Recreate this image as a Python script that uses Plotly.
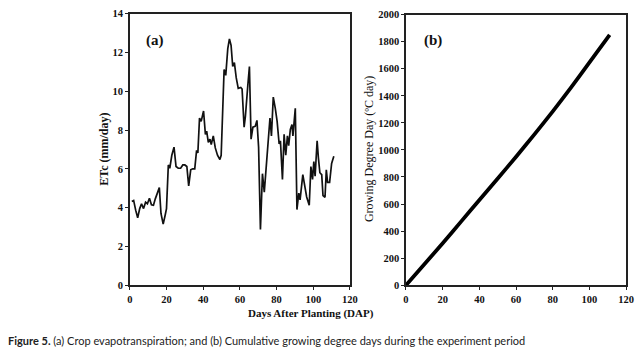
import plotly.graph_objects as go

# (a) Crop evapotranspiration, ETc (mm/day) vs days after planting
etc_days = [1.1, 2.1, 3.2, 4.3, 5.4, 6.4, 7.5, 8.6, 9.6, 10.7, 11.8, 12.9, 13.9, 15.0, 16.1,
            17.0, 18.2, 19.3, 20.0, 21.0, 21.8, 22.9, 24.1, 25.2, 26.4, 27.7, 28.9, 30.0, 31.1,
            32.1, 33.2, 34.3, 35.4, 36.4, 37.1, 38.0, 38.9, 40.2, 41.2, 41.9, 42.8, 43.7, 44.4,
            45.5, 46.6, 47.8, 49.1, 49.8, 51.4, 52.3, 53.4, 54.3, 55.2, 56.1, 57.0, 58.0, 59.1,
            60.5, 61.2, 62.3, 63.0, 64.3, 65.2, 66.1, 67.1, 68.4, 69.3, 70.2, 71.2, 72.3, 73.3,
            74.6, 75.9, 76.4, 77.2, 78.2, 79.3, 80.3, 81.4, 82.1, 83.2, 84.1, 85.0, 85.9, 86.6,
            87.5, 88.4, 88.9, 90.2, 91.1, 92.1, 92.8, 94.3, 95.3, 96.4, 97.8, 98.7, 99.6, 100.3,
            101.0, 102.1, 102.8, 103.6, 104.6, 105.3, 106.4, 107.1, 107.8, 108.9, 110.0, 111.2]
etc_values = [4.32, 4.37, 3.87, 3.48, 3.95, 4.2, 3.95, 4.28, 4.2, 4.48, 4.15, 4.12, 4.45, 4.7, 5.03,
              3.7, 3.15, 3.62, 3.95, 6.2, 6.03, 6.7, 7.12, 6.12, 6.03, 6.03, 6.2, 6.2, 6.12,
              5.12, 5.95, 6.0, 6.0, 6.95, 6.82, 8.62, 8.45, 8.98, 7.78, 7.95, 7.37, 7.53, 7.25,
              7.7, 7.08, 6.7, 6.48, 6.7, 11.12, 10.82, 12.2, 12.7, 12.37, 11.28, 11.48, 10.7, 10.15,
              10.2, 10.12, 8.15, 8.7, 10.28, 11.28, 7.53, 8.15, 8.2, 8.5, 7.12, 2.87, 5.75, 4.8,
              6.4, 7.78, 8.62, 7.7, 9.7, 9.12, 8.45, 7.28, 7.45, 5.45, 7.78, 6.7, 7.7, 7.2,
              8.03, 8.28, 7.7, 9.12, 3.9, 4.75, 4.4, 5.7, 5.2, 4.55, 4.12, 6.12, 5.45, 6.37,
              5.62, 7.45, 6.55, 5.8, 5.7, 4.62, 4.53, 5.95, 5.3, 5.3, 6.28, 6.65]

# (b) Cumulative growing degree days (ºC day)
gdd_days = [0, 10, 20, 30, 40, 50, 60, 70, 80, 90, 100, 111]
gdd_values = [0, 155, 310, 470, 630, 788, 950, 1115, 1285, 1462, 1648, 1850]

x_ticks = [0, 20, 40, 60, 80, 100, 120]
etc_ticks = [0, 2, 4, 6, 8, 10, 12, 14]
gdd_ticks = [0, 200, 400, 600, 800, 1000, 1200, 1400, 1600, 1800, 2000]

SERIF = "Liberation Serif"
AX = "#222222"

fig = go.Figure()
fig.add_trace(go.Scatter(x=etc_days, y=etc_values, mode="lines",
                         line=dict(color="#111111", width=1.7),
                         xaxis="x", yaxis="y", showlegend=False))
fig.add_trace(go.Scatter(x=gdd_days, y=gdd_values, mode="lines",
                         line=dict(color="#000000", width=3.8, shape="spline", smoothing=0.6),
                         xaxis="x2", yaxis="y2", showlegend=False))

tickfont = dict(family=SERIF, size=10.5, color="#111111", weight="bold")
common_x = dict(range=[0, 120], tickvals=x_ticks, ticks="outside", ticklen=3, tickwidth=1.3,
                tickcolor=AX, showline=True, linecolor=AX, linewidth=1.5, mirror=True,
                showgrid=False, zeroline=False, tickfont=tickfont)
common_y = dict(ticks="outside", ticklen=3, tickwidth=1.3, tickcolor=AX, showline=True,
                linecolor=AX, linewidth=1.5, mirror=True, showgrid=False, zeroline=False,
                tickfont=tickfont)

fig.update_layout(
    width=644, height=360,
    margin=dict(l=0, r=0, t=0, b=0),
    paper_bgcolor="white", plot_bgcolor="white",
    xaxis=dict(domain=[129/644, 353/644], anchor="y", **common_x),
    yaxis=dict(domain=[1-289/360, 1-9/360], anchor="x", range=[0, 14],
               tickvals=etc_ticks, **common_y),
    xaxis2=dict(domain=[410/644, 634/644], anchor="y2", **common_x),
    yaxis2=dict(domain=[1-289/360, 1-10/360], anchor="x2", range=[0, 2000],
                tickvals=gdd_ticks, **common_y),
)

ann = [
    dict(text="<b>(a)</b>", x=155/644, y=1-37/360, font=dict(family=SERIF, size=15, color="#111")),
    dict(text="<b>(b)</b>", x=437/644, y=1-37/360, font=dict(family=SERIF, size=15, color="#111")),
    dict(text="<b>ETc (mm/day)</b>", x=103/644, y=1-149/360, textangle=-90,
         font=dict(family=SERIF, size=12, color="#111")),
    dict(text="Growing Degree Day (ºC day)", x=373/644, y=1-149/360, textangle=-90,
         font=dict(family=SERIF, size=12, color="#111")),
    dict(text="<b>Days After Planting (DAP)</b>", x=313/644, y=1-318/360,
         font=dict(family=SERIF, size=11, color="#111")),
]
for a in ann:
    a.update(xref="paper", yref="paper", showarrow=False, xanchor="center", yanchor="middle")
fig.update_layout(annotations=ann)
fig.add_annotation(
    text="<b>Figure 5.</b> (a) Crop evapotranspiration; and (b) Cumulative growing degree days during the experiment period",
    xref="paper", yref="paper", x=3/644, y=1-346/360, xanchor="left", yanchor="middle",
    showarrow=False, font=dict(family="Lato", size=11, color="#222"))

fig.write_html("out.html", config={"displayModeBar": False},
               post_script="document.body.style.margin='0';")
